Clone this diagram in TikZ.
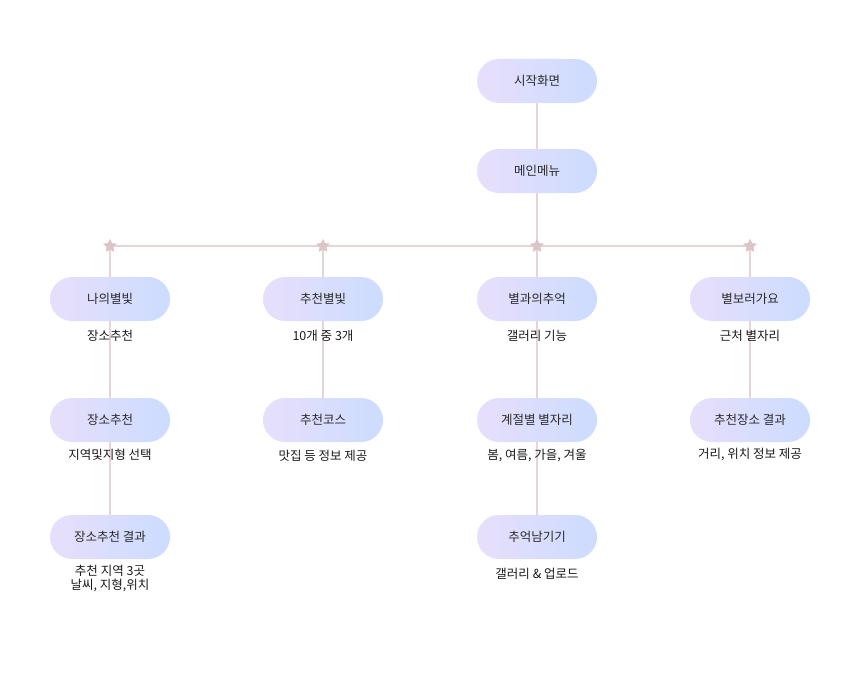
\documentclass[tikz,border=0pt]{standalone}
\usepackage{fontspec}
\setmainfont{Noto Sans CJK KR}
\usetikzlibrary{shapes.geometric}
\definecolor{pillleft}{HTML}{E7DFFB}
\definecolor{pillright}{HTML}{CCDCFF}
\definecolor{linkline}{HTML}{E6D5D5}
\definecolor{starpink}{HTML}{DCC4C7}
\definecolor{menutext}{HTML}{2A2A2A}

\begin{document}
\begin{tikzpicture}[x=1pt, y=-1pt,
  pill/.style={rounded corners=22pt, minimum width=120pt, minimum height=44pt,
    left color=pillleft, right color=pillright, text=menutext,
    font=\fontsize{12.5}{14}\selectfont},
  caption/.style={inner sep=1pt, text=black!90, align=center,
    font=\fontsize{12.5}{14}\selectfont},
  starmark/.style={star, star points=5, star point ratio=2.0, minimum size=14.5pt,
    inner sep=0pt, fill=starpink},
  link/.style={draw=linkline, line width=1.4pt}]
\useasboundingbox (0,0) rectangle (865,677);

% links first, nodes on top
\coordinate (s1) at (110,246);
\coordinate (s2) at (323,246);
\coordinate (s3) at (537,246);
\coordinate (s4) at (750,246);
\draw[link] (s1) -- (s4);
\draw[link] (537,81) -- (s3);
\draw[link] (s1) -- (110,537);
\draw[link] (s2) -- (323,420);
\draw[link] (s3) -- (537,537);
\draw[link] (s4) -- (750,420);
\foreach \s in {s1,s2,s3,s4} \node[starmark] at (\s) {};

% top
\node[pill] (start) at (537,81) {시작화면};
\node[pill] (menu) at (537,171) {메인메뉴};

% first row
\node[pill] (mystar) at (110,299) {나의별빛};
\node[pill] (recstar) at (323,299) {추천별빛};
\node[pill] (memory) at (537,299) {별과의추억};
\node[pill] (gosee) at (750,299) {별보러가요};
\node[caption] (mystarcap) at (110,336) {장소추천};
\node[caption] (recstarcap) at (323,336) {10개 중 3개};
\node[caption] (memorycap) at (537,336) {갤러리 기능};
\node[caption] (goseecap) at (750,336) {근처 별자리};

% second row
\node[pill] (place) at (110,420) {장소추천};
\node[pill] (course) at (323,420) {추천코스};
\node[pill] (season) at (537,420) {계절별 별자리};
\node[pill] (nearby) at (750,420) {추천장소 결과};
\node[caption] (placecap) at (110,455) {지역및지형 선택};
\node[caption] (coursecap) at (323,456) {맛집 등 정보 제공};
\node[caption] (seasoncap) at (537,456) {봄, 여름, 가을, 겨울};
\node[caption] (nearbycap) at (750,455) {거리, 위치 정보 제공};

% third row
\node[pill] (result) at (110,537) {장소추천 결과};
\node[pill] (keep) at (537,537) {추억남기기};
\node[caption] (resultcap) at (110,579) {추천 지역 3곳\\날씨, 지형,위치};
\node[caption] (keepcap) at (537,574) {갤러리 \& 업로드};
\end{tikzpicture}
\end{document}
